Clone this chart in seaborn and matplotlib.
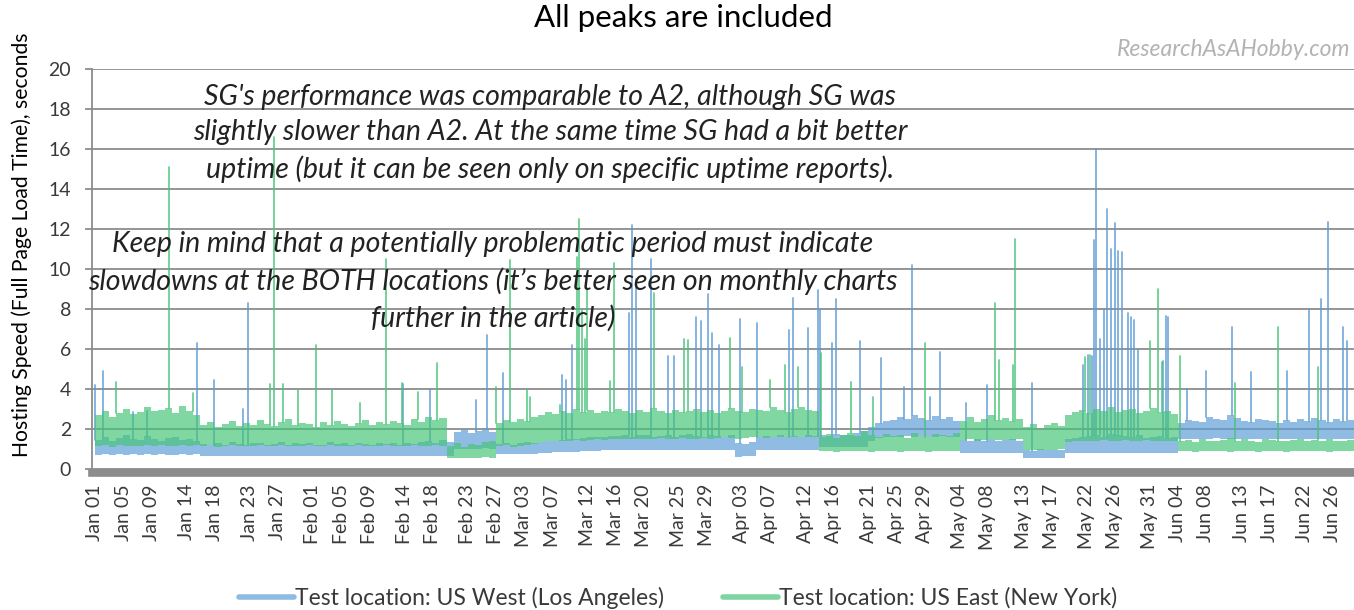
import numpy as np
import pandas as pd
import matplotlib
matplotlib.use("Agg")
import matplotlib.pyplot as plt
from matplotlib.lines import Line2D
import seaborn as sns

# ---------------- data ----------------
series_names = ["Test location: US West (Los Angeles)",
                "Test location: US East (New York)"]

tick_labels = ["Jan 01", "Jan 05", "Jan 09", "Jan 14", "Jan 18", "Jan 23", "Jan 27",
               "Feb 01", "Feb 05", "Feb 09", "Feb 14", "Feb 18", "Feb 23", "Feb 27",
               "Mar 03", "Mar 07", "Mar 12", "Mar 16", "Mar 20", "Mar 25", "Mar 29",
               "Apr 03", "Apr 07", "Apr 12", "Apr 16", "Apr 21", "Apr 25", "Apr 29",
               "May 04", "May 08", "May 13", "May 17", "May 22", "May 26", "May 31",
               "Jun 04", "Jun 08", "Jun 13", "Jun 17", "Jun 22", "Jun 26"]

# daily lower / upper envelope of the dense measurement band (seconds), Jan 1 .. Jun 29
west_low = [
    0.72, 0.75, 0.70, 0.73, 0.72, 0.74, 0.71, 0.73, 0.72, 0.75, 0.72, 0.70, 0.73, 0.72, 0.74,
    0.65, 0.64, 0.66, 0.65, 0.63, 0.66, 0.65, 0.64, 0.66, 0.65, 0.64, 0.66, 0.65, 0.63, 0.65,
    0.66, 0.64, 0.65, 0.66, 0.64, 0.65, 0.63, 0.66, 0.65, 0.64, 0.66, 0.65, 0.64, 0.63, 0.65,
    0.66, 0.64, 0.65, 0.63, 0.65, 0.66,
    1.00, 1.02, 0.98, 1.00, 1.03, 0.99,
    0.75, 0.76, 0.74, 0.75, 0.77, 0.75,
    0.80, 0.81, 0.83, 0.84, 0.86, 0.87, 0.88, 0.90, 0.91, 0.93, 0.94,
    0.95, 0.96, 0.95, 0.97, 0.96, 0.95, 0.97, 0.96, 0.95, 0.96, 0.97, 0.95, 0.96, 0.95, 0.97,
    0.96, 0.95,
    0.62, 0.64, 0.63,
    0.95, 0.96, 0.97, 0.95, 0.96, 0.97, 0.96, 0.95, 0.97,
    1.08, 1.10, 1.12, 1.09, 1.11, 1.10, 1.12,
    1.40, 1.55, 1.60,
    1.62, 1.60, 1.64, 1.61, 1.63, 1.60, 1.62, 1.64, 1.61, 1.60,
    0.78, 0.80, 0.79, 0.78, 0.80, 0.79, 0.78, 0.80, 0.79,
    0.53, 0.55, 0.54, 0.53, 0.55, 0.54,
    0.78, 0.79, 0.80, 0.78, 0.79, 0.80, 0.78, 0.79, 0.80, 0.78, 0.79, 0.80, 0.79, 0.78, 0.80,
    0.79,
    1.50, 1.52, 1.48, 1.51, 1.50, 1.53, 1.49, 1.50, 1.52, 1.51, 1.50, 1.48, 1.52, 1.50, 1.51,
    1.49, 1.50, 1.52, 1.50, 1.51, 1.49, 1.50, 1.52, 1.50, 1.51, 1.50]
west_high = [
    1.45, 1.60, 1.40, 1.55, 1.70, 1.50, 1.45, 1.65, 1.50, 1.40, 1.55, 1.60, 1.45, 1.50, 1.40,
    1.25, 1.20, 1.30, 1.22, 1.35, 1.25, 1.20, 1.28, 1.30, 1.22, 1.25, 1.35, 1.20, 1.28, 1.25,
    1.30, 1.22, 1.20, 1.35, 1.25, 1.28, 1.22, 1.30, 1.25, 1.20, 1.32, 1.25, 1.28, 1.22, 1.30,
    1.25, 1.35, 1.40, 1.30, 1.45, 1.35,
    1.85, 1.95, 1.80, 1.90, 2.00, 1.85,
    1.25, 1.30, 1.22, 1.28, 1.35, 1.30,
    1.35, 1.40, 1.38, 1.45, 1.50, 1.48, 1.55, 1.58, 1.60, 1.62, 1.65,
    1.65, 1.70, 1.62, 1.68, 1.72, 1.60, 1.65, 1.70, 1.62, 1.68, 1.75, 1.65, 1.60, 1.70, 1.66,
    1.62, 1.68,
    1.30, 1.25, 1.35,
    1.60, 1.65, 1.62, 1.70, 1.60, 1.66, 1.62, 1.68, 1.64,
    1.70, 1.65, 1.75, 1.68, 1.72, 1.80, 1.90,
    2.10, 2.30, 2.40,
    2.45, 2.60, 2.50, 2.70, 2.55, 2.45, 2.65, 2.50, 2.60, 2.40,
    1.45, 1.40, 1.50, 1.42, 1.48, 1.40, 1.45, 1.50, 1.42,
    0.95, 0.92, 0.98, 0.95, 0.93, 0.97,
    1.50, 1.55, 1.60, 1.65, 1.70, 1.60, 1.75, 1.70, 1.65, 1.60, 1.70, 1.55, 1.60, 1.65, 1.55,
    1.60,
    2.30, 2.45, 2.40, 2.35, 2.60, 2.50, 2.45, 2.70, 2.55, 2.40, 2.35, 2.50, 2.45, 2.40, 2.30,
    2.45, 2.35, 2.50, 2.40, 2.55, 2.45, 2.35, 2.50, 2.40, 2.45, 2.40]
east_low = [
    1.15, 1.18, 1.12, 1.20, 1.15, 1.17, 1.14, 1.20, 1.16, 1.18, 1.15, 1.13, 1.18, 1.16, 1.20,
    1.15, 1.18, 1.12, 1.16, 1.20, 1.14, 1.17, 1.15, 1.19, 1.13, 1.16, 1.18, 1.14, 1.17, 1.15,
    1.20, 1.13, 1.16, 1.18, 1.15, 1.14, 1.17, 1.19, 1.15, 1.13, 1.16, 1.18, 1.14, 1.17, 1.15,
    1.19, 1.16, 1.14, 1.18, 1.15,
    0.55, 0.57, 0.54, 0.56, 0.55, 0.58, 0.56,
    1.15, 1.18, 1.12, 1.16, 1.20, 1.25,
    1.35, 1.38, 1.40, 1.42, 1.40, 1.45, 1.42, 1.45, 1.48, 1.45, 1.50, 1.48, 1.52, 1.50, 1.48,
    1.52, 1.50, 1.55, 1.52, 1.50, 1.55, 1.52, 1.50, 1.55, 1.52, 1.55, 1.58, 1.55, 1.52, 1.55,
    1.58, 1.60, 1.55, 1.58, 1.60, 1.62, 1.58, 1.60, 1.62, 1.60,
    0.88, 0.90, 0.87, 0.89, 0.88, 0.90, 0.88, 0.87, 0.89, 0.90, 0.88, 0.87, 0.89, 0.88, 0.90,
    0.87, 0.89, 0.88, 0.90, 0.88,
    1.45, 1.48, 1.42, 1.46, 1.50, 1.44, 1.47, 1.45, 1.48,
    0.95, 0.97, 0.93, 0.96, 0.94, 0.98,
    1.35, 1.40, 1.38, 1.42, 1.40, 1.45, 1.42, 1.40, 1.44, 1.42, 1.40, 1.45, 1.42, 1.40, 1.38,
    1.42,
    0.88, 0.90, 0.87, 0.89, 0.88, 0.90, 0.88, 0.87, 0.89, 0.90, 0.88, 0.87, 0.89, 0.88, 0.90,
    0.87, 0.89, 0.88, 0.90, 0.88, 0.89, 0.87, 0.88, 0.90, 0.89, 0.88]
east_high = [
    2.70, 2.90, 2.60, 2.80, 3.00, 2.75, 2.85, 3.10, 2.90, 2.95, 3.05, 2.80, 3.15, 2.90, 2.70,
    2.20, 2.35, 2.10, 2.25, 2.40, 2.15, 2.30, 2.20, 2.45, 2.25, 2.15, 2.35, 2.50, 2.20, 2.30,
    2.25, 2.10, 2.35, 2.20, 2.40, 2.25, 2.15, 2.30, 2.45, 2.20, 2.35, 2.25, 2.40, 2.30, 2.20,
    2.50, 2.35, 2.60, 2.45, 2.55,
    1.15, 1.30, 1.10, 1.25, 1.20, 1.35, 1.40,
    2.30, 2.45, 2.35, 2.50, 2.40, 2.60,
    2.70, 2.85, 2.75, 2.90, 2.80, 3.00, 2.85, 2.95, 2.80, 2.90, 2.85, 3.00, 2.90, 2.80, 2.95,
    2.85, 3.05, 2.90, 2.80, 2.95, 2.85, 2.90, 3.00, 2.85, 2.95, 2.80, 2.90, 3.05, 2.90, 2.85,
    3.00, 2.95, 2.90, 3.10, 2.95, 2.85, 3.00, 3.10, 2.95, 2.90,
    1.60, 1.75, 1.55, 1.70, 1.80, 1.65, 1.90, 1.70, 1.60, 1.75, 1.65, 1.70, 1.55, 1.80, 1.65,
    1.60, 1.75, 1.70, 1.65, 1.80,
    2.40, 2.60, 2.35, 2.50, 2.70, 2.45, 2.55, 2.40, 2.50,
    2.10, 2.25, 2.00, 2.20, 2.30, 2.15,
    2.70, 2.85, 2.95, 2.80, 3.00, 2.90, 3.10, 2.85, 2.95, 3.00, 2.80, 2.90, 3.05, 2.85, 2.90,
    2.75,
    1.40, 1.45, 1.35, 1.50, 1.42, 1.38, 1.45, 1.55, 1.40, 1.48, 1.42, 1.36, 1.50, 1.45, 1.40,
    1.38, 1.46, 1.52, 1.40, 1.44, 1.38, 1.48, 1.42, 1.40, 1.45, 1.42]

# individual slow peaks: time in days after Jan 1 00:00, value in seconds
west_peak_day = [0.0, 1.1, 5.4, 7.4, 14.5, 16.9, 21.0, 21.8, 43.8, 47.6, 54.2, 55.7, 58.0,
                 66.4, 67.0, 67.8, 75.9, 76.4, 76.9, 79.1, 81.5, 82.3, 85.5, 86.2, 87.2,
                 87.7, 88.7, 91.7, 94.1, 98.7, 99.3, 101.4, 102.8, 103.1, 104.8, 105.4,
                 108.8, 111.8, 115.0, 116.2, 118.7, 120.2, 123.9, 126.8, 133.2, 140.5,
                 141.2, 141.8, 142.1, 142.3, 142.9, 143.5, 143.9, 144.5, 145.0, 145.5,
                 146.0, 146.9, 147.3, 147.7, 148.3, 151.9, 152.3, 152.6, 155.3, 158.0,
                 161.7, 164.4, 169.5, 172.6, 174.3, 175.3, 177.5, 178.1]
west_peak_val = [4.2, 4.9, 2.85, 2.9, 6.3, 4.45, 3.0, 8.3, 4.25, 4.0, 3.45, 6.7, 4.8,
                 4.7, 4.45, 6.2, 7.8, 12.2, 9.5, 10.5, 5.65, 5.65, 7.6, 7.4, 8.75,
                 6.8, 6.2, 7.5, 7.3, 6.95, 8.55, 7.05, 8.95, 8.0, 6.3, 8.5,
                 6.4, 5.55, 4.1, 10.2, 3.6, 5.85, 3.3, 4.2, 4.3, 5.2,
                 5.7, 5.65, 11.45, 16.0, 6.5, 8.0, 13.0, 11.0, 12.3, 10.9,
                 10.85, 7.8, 7.6, 7.45, 5.95, 5.4, 7.65, 7.6, 4.0, 4.9,
                 7.1, 4.85, 4.9, 7.95, 8.5, 12.35, 7.1, 6.4]
east_peak_day = [3.0, 10.5, 13.9, 24.9, 25.5, 26.7, 28.9, 31.4, 33.7, 37.7, 41.4, 43.7,
                 45.9, 48.6, 57.0, 59.0, 61.4, 61.9, 66.1, 68.5, 68.8, 69.3, 69.7, 70.0,
                 73.2, 73.8, 79.5, 83.8, 84.3, 90.3, 92.0, 96.0, 98.1, 100.0, 103.2,
                 107.5, 110.6, 118.0, 128.0, 128.6, 130.5, 130.8, 140.8, 141.5, 150.0,
                 151.2, 151.7, 154.3, 162.1, 168.2, 173.9]
east_peak_val = [4.35, 15.1, 3.8, 4.25, 16.6, 4.25, 3.95, 6.2, 3.95, 3.3, 10.5, 4.3,
                 3.85, 5.3, 4.1, 10.45, 4.0, 3.6, 3.2, 10.6, 12.5, 8.0, 6.5, 9.0,
                 4.4, 10.3, 8.8, 6.5, 6.45, 6.55, 5.1, 4.45, 5.2, 5.1, 5.8,
                 4.35, 3.6, 6.3, 8.3, 5.45, 5.2, 11.5, 5.6, 5.7, 6.4,
                 9.0, 5.35, 5.65, 4.3, 7.1, 5.1]

# ---------------- styling ----------------
W_PX, H_PX, DPI = 1354, 610, 100
blue, green = "#5B9BD5", "#45C477"
blue_legend, green_legend = "#8DBBE3", "#7DD6A0"
grid_col = "#8c8c8c"
txt_col = "#3a3a3a"

sns.set_theme(style="white")
plt.rcParams["font.family"] = ["Lato", "DejaVu Sans"]

fig = plt.figure(figsize=(W_PX / DPI, H_PX / DPI), dpi=DPI)
ax = fig.add_axes([92 / W_PX, 1 - 473 / H_PX, (W_PX - 92) / W_PX, 404 / H_PX])

base = pd.Timestamp("2018-01-01")
n_days = len(west_low)
edges = base + pd.to_timedelta(np.arange(n_days + 1), unit="D")

series = [
    (series_names[0], west_low, west_high, west_peak_day, west_peak_val, blue),
    (series_names[1], east_low, east_high, east_peak_day, east_peak_val, green),
]

for k, (name, lo, hi, pk_day, pk_val, col) in enumerate(series):
    # dense band of regular measurements
    ax.fill_between(edges, list(lo) + [lo[-1]], list(hi) + [hi[-1]], step="post",
                    color=col, alpha=0.68, linewidth=0, zorder=2 + 2 * k)
    # slow peaks rising out of the band
    rows = []
    for i, (d, v) in enumerate(zip(pk_day, pk_val)):
        t = base + pd.Timedelta(days=d)
        rows.append({"peak": i, "date": t, "value": hi[int(d)]})
        rows.append({"peak": i, "date": t, "value": v})
    pk = pd.DataFrame(rows)
    sns.lineplot(data=pk, x="date", y="value", units="peak", estimator=None, sort=False,
                 color=col, linewidth=1.3, alpha=0.8, ax=ax, zorder=3 + 2 * k,
                 legend=False)

# axes
ax.set_xlim(base - pd.Timedelta(hours=10), base + pd.Timedelta(days=179.05))
ax.set_ylim(-0.2, 20)
ax.set_yticks(np.arange(0, 21, 2))
ax.yaxis.grid(True, color=grid_col, linewidth=1.3)
ax.xaxis.grid(False)
ax.set_axisbelow(True)
for s in ["top", "right"]:
    ax.spines[s].set_visible(False)
ax.spines["left"].set_color(grid_col)
ax.spines["left"].set_linewidth(1.3)
ax.spines["bottom"].set_color(grid_col)
ax.spines["bottom"].set_linewidth(5.5)
ax.spines["bottom"].set_zorder(6)

tick_dates = [pd.to_datetime(lbl + " 2018", format="%b %d %Y") for lbl in tick_labels]
ax.set_xticks(tick_dates)
ax.set_xticklabels(tick_labels, rotation=90)
ax.tick_params(axis="x", length=0, pad=8, labelsize=14, labelcolor=txt_col)
ax.tick_params(axis="y", left=True, length=5, width=1.3, color=grid_col, pad=10,
               labelsize=14, labelcolor=txt_col)
ax.set_xlabel("")
ax.set_ylabel("")

# texts
fig.text(683 / W_PX, 1 - 18 / H_PX, "All peaks are included", ha="center", va="center",
         fontsize=22.5, color="black")
fig.text(22 / W_PX, 1 - 245 / H_PX, "Hosting Speed (Full Page Load Time), seconds",
         rotation=90, ha="center", va="center", fontsize=15.2, color="black")
fig.text(1350 / W_PX, 1 - 50 / H_PX, "ResearchAsAHobby.com", ha="right", va="center",
         fontsize=16.5, style="italic", color="#b3b3b3")
fig.text(550 / W_PX, 1 - 133.5 / H_PX,
         "SG's performance was comparable to A2, although SG was\n"
         "slightly slower than A2. At the same time SG had a bit better\n"
         "uptime (but it can be seen only on specific uptime reports).",
         ha="center", va="center", fontsize=20.5, style="italic", color="#222222",
         linespacing=1.45, zorder=10)
fig.text(493 / W_PX, 1 - 281.5 / H_PX,
         "Keep in mind that a potentially problematic period must indicate\n"
         "slowdowns at the BOTH locations (it\u2019s better seen on monthly charts\n"
         "further in the article)",
         ha="center", va="center", fontsize=20.5, style="italic", color="#222222",
         linespacing=1.45, zorder=10)

handles = [Line2D([0], [0], color=blue_legend, lw=4),
           Line2D([0], [0], color=green_legend, lw=4)]
fig.legend(handles, series_names, loc="center", bbox_to_anchor=(678 / W_PX, 1 - 598 / H_PX),
           ncol=2, frameon=False, fontsize=16.5, handlelength=2.4, handletextpad=0.05,
           columnspacing=2.6, labelcolor=txt_col)

fig.savefig("out.png", dpi=DPI)
